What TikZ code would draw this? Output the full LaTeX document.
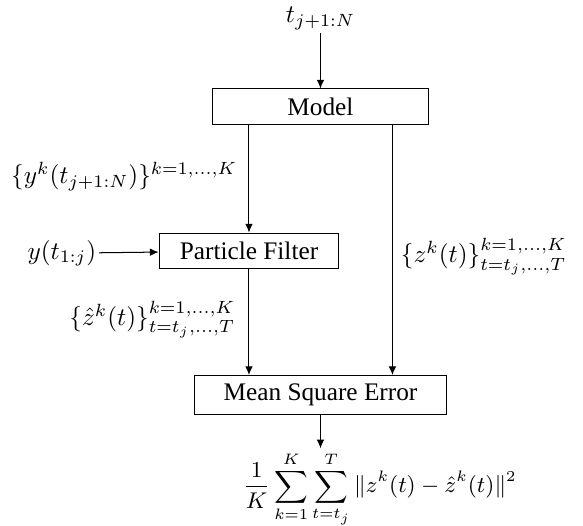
\documentclass[tikz,border=0pt]{standalone}
\usepackage{amsmath}
\usepackage[no-math]{fontspec}
\setmainfont{Liberation Serif}
\usepackage{tikz}
\usetikzlibrary{positioning, arrows.meta}

\begin{document}
\begin{tikzpicture}[
    block/.style={
        rectangle,
        draw=black,
        minimum height=0.5cm,
        font=\normalsize,
    },
    lbl/.style={inner sep=1pt},
    flow/.style={-{Latex[length=3.4pt,width=3pt]}, thin, color=black}
]
\useasboundingbox (0,0) rectangle (8.104,-7.298);

\node[lbl] (Tin) at (4.455,-0.26) {$t_{j+1:N}$};
\node[block, minimum width=2.99cm] (Model) at (4.455,-1.487) {Model};
\node[block, minimum width=2.50cm] (PF) at (3.461,-3.489) {Particle Filter};
\node[block, minimum width=3.49cm] (MSE) at (4.455,-5.49) {Mean Square Error};
\node[lbl] (Obs) at (0.86,-3.52) {$y(t_{1:j})$};
\node[lbl, anchor=east] (Ysim) at (3.34,-2.45) {$\{y^k(t_{j+1:N})\}^{k=1,\ldots,K}$};
\node[lbl, anchor=west] (Zsim) at (5.53,-3.57) {$\{z^k(t)\}^{k=1,\ldots,K}_{t=t_j,\ldots,T}$};
\node[lbl, anchor=east] (Zhat) at (3.31,-4.44) {$\{\hat{z}^k(t)\}^{k=1,\ldots,K}_{t=t_j,\ldots,T}$};
\node[font=\small, inner sep=1pt] (Loss) at (5.28,-6.80) {$\displaystyle \frac{1}{K}\sum_{k=1}^{K}\sum_{t=t_j}^{T}\|z^k(t)-\hat{z}^k(t)\|^2$};

\draw[flow] (Tin) -- (Model);
\draw[flow] (Model.south -| PF.north) -- (PF.north);
\draw[flow] ([xshift=1cm]Model.south) -- ([xshift=1cm]MSE.north);
\draw[flow] (Obs) -- (PF);
\draw[flow] (PF.south) -- (PF.south |- MSE.north);
\draw[flow] (MSE.south) -- (MSE.south |- Loss.north);
\end{tikzpicture}
\end{document}
